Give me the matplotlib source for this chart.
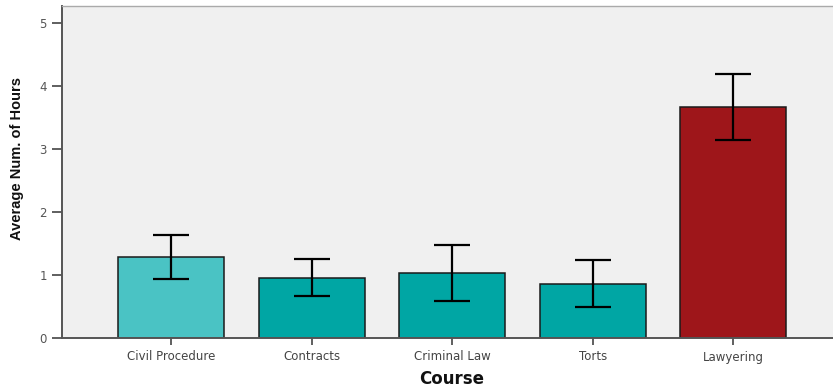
import matplotlib
matplotlib.use("Agg")
import matplotlib.pyplot as plt
import numpy as np

courses = ["Civil Procedure", "Contracts", "Criminal Law", "Torts", "Lawyering"]
mean_hours = [1.28, 0.95, 1.03, 0.86, 3.67]
ci_lower = [0.93, 0.66, 0.59, 0.49, 3.15]
ci_upper = [1.63, 1.25, 1.47, 1.24, 4.19]
bar_colors = ["#4AC3C4", "#00A6A4", "#00A6A4", "#00A6A4", "#9E161A"]
y_ticks = [0, 1, 2, 3, 4, 5]

fig = plt.figure(figsize=(8.33, 3.90), dpi=100)
ax = fig.add_axes([62 / 833, 1 - 338 / 390, 1 - 62 / 833, (338 - 6) / 390])
ax.set_facecolor("#F0F0F0")

x = np.arange(len(courses))
means = np.array(mean_hours)
yerr = np.vstack([means - np.array(ci_lower), np.array(ci_upper) - means])

ax.bar(x, means, width=0.755, color=bar_colors, edgecolor="#1A1A1A",
       linewidth=1.1, zorder=2)
ax.errorbar(x, means, yerr=yerr, fmt="none", ecolor="black",
            elinewidth=1.6, capsize=13, capthick=1.6, zorder=3)

ax.set_xlim(-0.776, 4.71)
ax.set_ylim(0, 5.27)
ax.set_yticks(y_ticks)
ax.set_xticks(x)

ytick_font = dict(family="DejaVu Sans", size=8.5, color="#555555")
xtick_font = dict(family="DejaVu Sans", size=8.5, color="#444444")
ax.set_yticklabels([str(t) for t in y_ticks], fontdict=ytick_font)
ax.set_xticklabels(courses, fontdict=xtick_font)

ax.tick_params(axis="y", direction="out", length=7, width=1.2,
               color="#444444", pad=4)
ax.tick_params(axis="x", direction="out", length=5, width=1.2,
               color="#444444", pad=4)

for side in ("left", "bottom"):
    ax.spines[side].set_color("#555555")
    ax.spines[side].set_linewidth(1.4)
ax.spines["top"].set_color("#AAAAAA")
ax.spines["top"].set_linewidth(1.0)
ax.spines["right"].set_visible(False)

fig.text(17 / 833, 1 - 159 / 390, "Average Num. of Hours", rotation=90,
         ha="center", va="center", family="Liberation Sans", fontsize=10.5,
         fontweight="bold", color="#111111")
fig.text(452 / 833, 1 - 379 / 390, "Course", ha="center", va="center",
         family="DejaVu Sans", fontsize=12, fontweight="bold",
         color="#111111")

fig.savefig("out.png", dpi=100)
